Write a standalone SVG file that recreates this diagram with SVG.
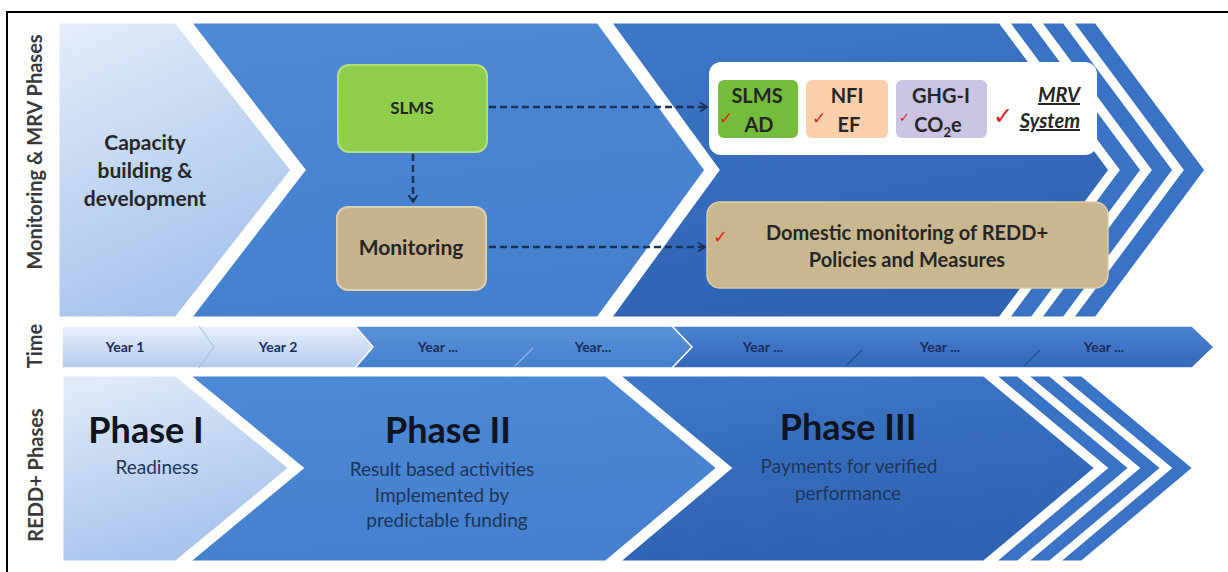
<svg xmlns="http://www.w3.org/2000/svg" width="1228" height="572" viewBox="0 0 1228 572">
<defs>
<linearGradient id="gLight" x1="0" y1="0" x2="0.35" y2="1">
<stop offset="0" stop-color="#e4edfa"/>
<stop offset="1" stop-color="#a6c3ec"/>
</linearGradient>
<linearGradient id="gMid" x1="0" y1="0" x2="0.2" y2="1">
<stop offset="0" stop-color="#4e89d5"/>
<stop offset="1" stop-color="#4480cd"/>
</linearGradient>
<linearGradient id="gDark" x1="0" y1="0" x2="0.3" y2="1">
<stop offset="0" stop-color="#3f77c7"/>
<stop offset="1" stop-color="#2f62b2"/>
</linearGradient>
<linearGradient id="gTimeLight" x1="0" y1="0" x2="0" y2="1">
<stop offset="0" stop-color="#e8f0fb"/>
<stop offset="1" stop-color="#b3cbee"/>
</linearGradient>
<linearGradient id="gTimeMid" x1="0" y1="0" x2="0" y2="1">
<stop offset="0" stop-color="#5a92da"/>
<stop offset="1" stop-color="#4680cc"/>
</linearGradient>
<linearGradient id="gTimeDark" x1="0" y1="0" x2="0" y2="1">
<stop offset="0" stop-color="#4a82d0"/>
<stop offset="1" stop-color="#3468b8"/>
</linearGradient>
<marker id="arr" markerWidth="12" markerHeight="12" refX="9" refY="6" orient="auto" markerUnits="userSpaceOnUse">
<path d="M2,1.5 L9,6 L2,10.5" fill="none" stroke="#1c3157" stroke-width="2"/>
</marker>
<style>
.sh{stroke:#ffffff;stroke-width:3;stroke-linejoin:miter}
.side{font-family:Lato,"Liberation Sans",sans-serif;font-weight:700;font-size:20px;fill:#3a3a3a;text-anchor:middle}
.yr{font-family:Lato,"Liberation Sans",sans-serif;font-weight:700;font-size:14px;fill:#1b2c5c;text-anchor:middle}
.ph{font-family:Lato,"Liberation Sans",sans-serif;font-weight:700;font-size:36px;fill:#0f1420;text-anchor:middle}
.sub{font-family:Lato,"Liberation Sans",sans-serif;font-size:19px;fill:#1e3558;text-anchor:middle}
.bt{font-family:Lato,"Liberation Sans",sans-serif;font-weight:700;fill:#262626;text-anchor:middle}
.mrv{font-family:Lato,"Liberation Sans",sans-serif;font-weight:700;font-style:italic;font-size:20px;fill:#262626;text-anchor:end;text-decoration:underline}
.chk{font-family:"DejaVu Sans",sans-serif;fill:#e02424}
.conn{fill:none;stroke:#1c3157;stroke-width:2.5;stroke-dasharray:7 4}
</style>
</defs>
<rect x="0" y="0" width="1228" height="572" fill="#ffffff"/>
<!-- frame -->
<line x1="7" y1="12" x2="1228" y2="12" stroke="#000" stroke-width="2"/>
<line x1="7" y1="11" x2="7" y2="572" stroke="#000" stroke-width="2"/>

<!-- side labels -->
<g id="side-labels">
<text class="side" transform="translate(42,152) rotate(-90)">Monitoring &amp; MRV Phases</text>
<text class="side" transform="translate(42,346) rotate(-90)">Time</text>
<text class="side" transform="translate(43,475) rotate(-90)">REDD+ Phases</text>
</g>

<!-- top band: Monitoring & MRV phases -->
<g id="mrv-stripes">
<path class="sh" fill="#3a72c6" d="M1072,22 H1096 L1206,170 L1096,318 H1072 L1182,170 Z"/>
<path class="sh" fill="#3a72c6" d="M1040,22 H1064 L1174,170 L1064,318 H1040 L1150,170 Z"/>
<path class="sh" fill="#3a72c6" d="M1008,22 H1032 L1142,170 L1032,318 H1008 L1118,170 Z"/>
</g>
<g id="mrv-phase3">
<path class="sh" fill="url(#gDark)" d="M610,22 H1000 L1110,170 L1000,318 H610 L718,170 Z"/>
</g>
<g id="mrv-phase2">
<path class="sh" fill="url(#gMid)" d="M190,22 H598 L706,170 L598,318 H190 L304,170 Z"/>
</g>
<g id="capacity">
<path class="sh" fill="url(#gLight)" d="M58,22 H176 L292,170 L176,318 H58 Z"/>
<text class="bt" font-size="21" x="145" y="150">Capacity</text>
<text class="bt" font-size="21" x="145" y="178">building &amp;</text>
<text class="bt" font-size="21" x="145" y="206">development</text>
</g>

<!-- connectors -->
<g id="connectors">
<line class="conn" x1="489" y1="107" x2="707" y2="107" marker-end="url(#arr)"/>
<line class="conn" x1="489" y1="247" x2="705" y2="247" marker-end="url(#arr)"/>
<line class="conn" x1="413" y1="154" x2="413" y2="202" marker-end="url(#arr)"/>
</g>

<g id="slms">
<rect x="338" y="65" width="149" height="87" rx="11" fill="#8fce4c" stroke="#b4e07c" stroke-width="2"/>
<text class="bt" font-size="17" x="412" y="114" fill="#1f2a10">SLMS</text>
</g>
<g id="monitoring">
<rect x="337" y="207" width="149" height="83" rx="11" fill="#c7b48e" stroke="#ddd0b0" stroke-width="2"/>
<text class="bt" font-size="21" x="411" y="255">Monitoring</text>
</g>

<g id="mrv-system">
<rect x="709" y="62" width="388" height="93" rx="12" fill="#ffffff"/>
<rect x="718" y="80" width="80" height="58" rx="6" fill="#74bd3c"/>
<text class="bt" font-size="20" x="757" y="103">SLMS</text>
<text class="bt" font-size="20" x="759" y="132">AD</text>
<text class="chk" font-size="17" x="719" y="124">✓</text>
<rect x="806" y="80" width="82" height="58" rx="6" fill="#fbcfaa"/>
<text class="bt" font-size="20" x="847" y="103">NFI</text>
<text class="bt" font-size="20" x="849" y="132">EF</text>
<text class="chk" font-size="17" x="812" y="124">✓</text>
<rect x="896" y="80" width="91" height="58" rx="6" fill="#cac3e2"/>
<text class="bt" font-size="20" x="941" y="103">GHG-I</text>
<text class="bt" font-size="20" x="938" y="132">CO<tspan font-size="13" dy="5">2</tspan><tspan dy="-5">e</tspan></text>
<text class="chk" font-size="13" x="899" y="122">✓</text>
<text class="mrv" x="1080" y="102">MRV</text>
<text class="mrv" x="1080" y="128">System</text>
<text class="chk" font-size="24" x="993" y="124">✓</text>
</g>

<g id="domestic">
<rect x="707" y="202" width="401" height="86" rx="13" fill="#c9b88f" stroke="#d9ccaa" stroke-width="1.5"/>
<text class="chk" font-size="18" x="713" y="243">✓</text>
<text class="bt" font-size="20" x="907" y="240">Domestic monitoring of REDD+</text>
<text class="bt" font-size="20" x="907" y="267">Policies and Measures</text>
</g>

<!-- time band -->
<g id="time">
<path fill="url(#gTimeDark)" stroke="#ffffff" stroke-width="1.5" d="M660,326 H1192 L1214,347 L1192,368 H660 Z"/>
<path fill="url(#gTimeMid)" stroke="#ffffff" stroke-width="1.5" d="M350,326 H672 L692,347 L672,368 H350 Z"/>
<path fill="url(#gTimeLight)" stroke="#ffffff" stroke-width="1.5" d="M62,326 H355 L373,347 L355,368 H62 Z"/>
<polyline points="199,326 214,347 199,368" fill="none" stroke="#9fb9dc" stroke-width="1"/>
<line x1="515" y1="366" x2="533" y2="348" stroke="#8fb4e6" stroke-width="1.2"/>
<line x1="846" y1="366" x2="862" y2="350" stroke="#24508f" stroke-width="1.2"/>
<line x1="1024" y1="366" x2="1040" y2="350" stroke="#24508f" stroke-width="1.2"/>
<text class="yr" x="125" y="352">Year 1</text>
<text class="yr" x="278" y="352">Year 2</text>
<text class="yr" x="438" y="352">Year ...</text>
<text class="yr" x="593" y="352">Year...</text>
<text class="yr" x="763" y="352">Year ...</text>
<text class="yr" x="940" y="352">Year ...</text>
<text class="yr" x="1104" y="352">Year ...</text>
</g>

<!-- bottom band: REDD+ phases -->
<g id="redd-stripes">
<path class="sh" fill="#3a72c6" d="M1058,375 H1082 L1194,468 L1082,562 H1058 L1170,468 Z"/>
<path class="sh" fill="#3a72c6" d="M1026,375 H1050 L1162,468 L1050,562 H1026 L1138,468 Z"/>
<path class="sh" fill="#3a72c6" d="M994,375 H1018 L1130,468 L1018,562 H994 L1106,468 Z"/>
</g>
<g id="phase3">
<path class="sh" fill="url(#gDark)" d="M618,375 H984 L1096,468 L984,562 H618 L730,468 Z"/>
<text class="ph" x="848" y="440">Phase III</text>
<text class="sub" x="849" y="473">Payments for verified</text>
<text class="sub" x="848" y="500">performance</text>
</g>
<g id="phase2">
<path class="sh" fill="url(#gMid)" d="M188,375 H606 L718,468 L606,562 H188 L302,468 Z"/>
<text class="ph" x="448" y="443">Phase II</text>
<text class="sub" x="442" y="476">Result based activities</text>
<text class="sub" x="442" y="502">Implemented by</text>
<text class="sub" x="447" y="527">predictable funding</text>
</g>
<g id="phase1">
<path class="sh" fill="url(#gLight)" d="M62,375 H176 L290,468 L176,562 H62 Z"/>
<text class="ph" x="146" y="443">Phase I</text>
<text class="sub" x="157" y="474">Readiness</text>
</g>
</svg>
